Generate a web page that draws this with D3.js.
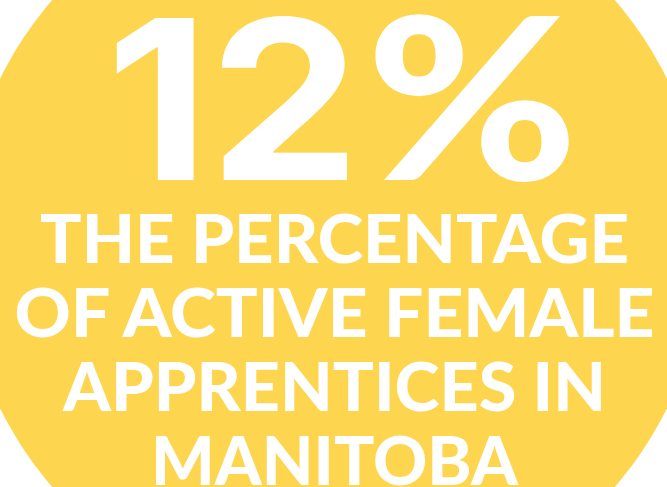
<!DOCTYPE html>
<style>
body { margin: 0; background: #fff; }
svg { display: block; }
.big {
  fill: #fff;
  font-weight: 700;
}
.digits { font-family: Inter, Roboto, sans-serif; }
.pct { font-family: Lato, sans-serif; font-weight: 900; }
.line {
  fill: #fff;
  font-family: Lato, "Open Sans", sans-serif;
  font-weight: 900;
}
</style>
<svg width="667" height="487"></svg>
<script src="https://d3js.org/d3.v7.min.js"></script>
<script>

var headlineNumber = "12";
var headlineUnit = "%";
var captionLines = ["THE PERCENTAGE", "OF ACTIVE FEMALE", "APPRENTICES IN", "MANITOBA"];
var captionWidths = [589, 640, 543, 367];

var width = 667, height = 487;
var svg = d3.select("svg");

// yellow disc, larger than the frame
svg.append("circle")
  .attr("cx", 333.5)
  .attr("cy", 243.5)
  .attr("r", 372)
  .attr("fill", "#FDD54F");

// big number, digits and percent sign drawn in separate spans
var big = svg.append("text")
  .attr("class", "big")
  .attr("y", 180);

big.append("tspan")
  .attr("class", "digits")
  .attr("x", 106)
  .attr("font-size", 222)
  .attr("textLength", 254)
  .attr("lengthAdjust", "spacingAndGlyphs")
  .text(headlineNumber);

big.append("tspan")
  .attr("class", "pct")
  .attr("x", 366)
  .attr("font-size", 226)
  .attr("textLength", 212)
  .attr("lengthAdjust", "spacingAndGlyphs")
  .text(headlineUnit);

var y = d3.scaleLinear().domain([0, captionLines.length - 1]).range([263, 485]);

svg.selectAll(".line")
  .data(captionLines)
  .enter()
  .append("text")
  .attr("class", "line")
  .attr("x", 334.5)
  .attr("y", (d, i) => y(i))
  .attr("text-anchor", "middle")
  .attr("font-size", 67.5)
  .attr("textLength", (d, i) => captionWidths[i])
  .attr("lengthAdjust", "spacingAndGlyphs")
  .text(d => d);

</script>
